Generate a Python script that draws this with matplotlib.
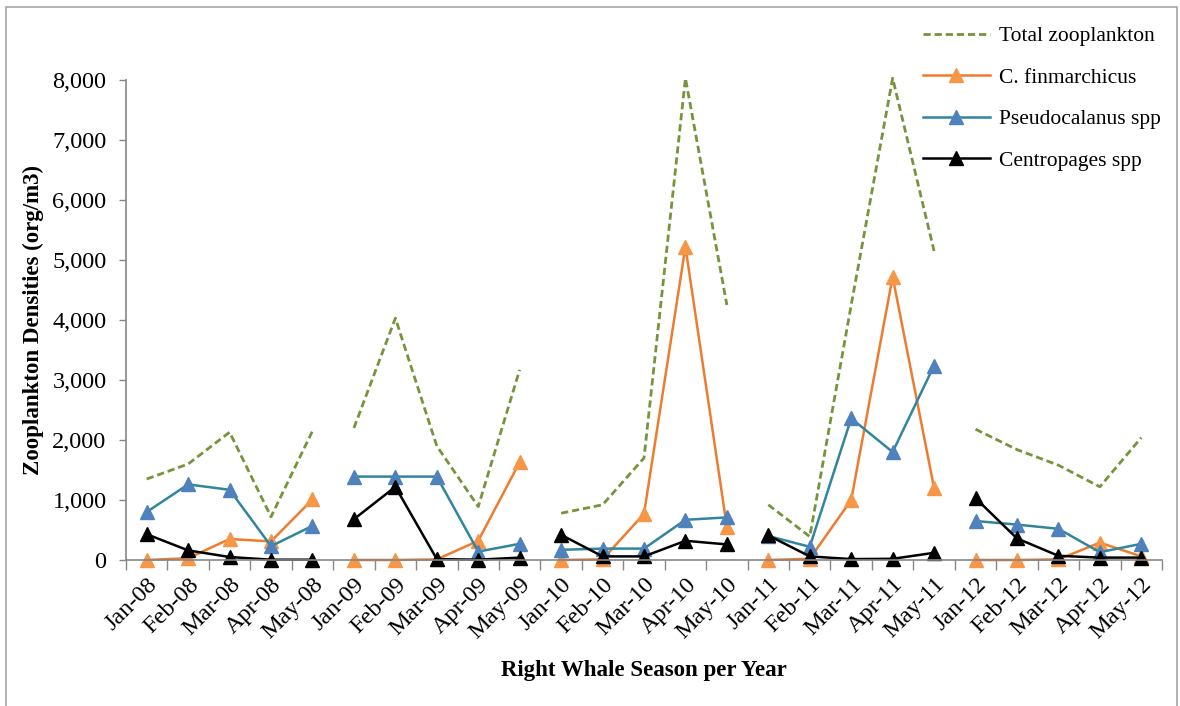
import numpy as np
import matplotlib
matplotlib.use("Agg")
import matplotlib.pyplot as plt
from matplotlib.patches import Rectangle

# survey months, Jan-May for each season
months = ["Jan", "Feb", "Mar", "Apr", "May"]
years = ["08", "09", "10", "11", "12"]
labels = [m + "-" + y for y in years for m in months]

# densities (org/m3), one row per season
total = [[1350, 1600, 2130, 720, 2150],
         [2200, 4030, 1900, 890, 3170],
         [780, 920, 1700, 8030, 4250],
         [920, 390, 4250, 8030, 5150],
         [2180, 1840, 1580, 1220, 2040]]
cfin = [[0, 30, 350, 310, 1010],
        [0, 0, 10, 320, 1630],
        [0, 10, 770, 5220, 550],
        [0, 20, 1000, 4720, 1200],
        [0, 0, 10, 290, 60]]
pseudo = [[800, 1260, 1170, 230, 570],
          [1390, 1390, 1390, 140, 270],
          [170, 190, 190, 670, 710],
          [400, 220, 2360, 1800, 3240],
          [650, 590, 520, 130, 270]]
centro = [[430, 160, 50, 5, 5],
          [680, 1220, 15, 5, 40],
          [420, 60, 60, 320, 260],
          [410, 60, 15, 20, 120],
          [1030, 360, 70, 40, 40]]

plt.rcParams['font.family'] = ['Liberation Serif', 'DejaVu Serif']

fig = plt.figure(figsize=(11.8, 7.06), dpi=100)
ax = fig.add_axes([126/1180, 1 - 560/706, 1036/1180, 480/706])

# thin grey border round the whole chart area
fig.patches.append(Rectangle((6/1180, -0.01), 1171/1180, 1 - 7/706 + 0.01,
                             transform=fig.transFigure, fill=False,
                             edgecolor="#a6a6a6", lw=1.2))

styles = [
    ("Total zooplankton", total, dict(color="#77933C", ls=(0, (2.6, 1.4)), lw=2.0)),
    ("C. finmarchicus", cfin, dict(color="#EE7C2F", marker="^", mfc="#F79646",
                                   mec="#F79646", ms=9.5, lw=1.8)),
    ("Pseudocalanus spp", pseudo, dict(color="#31859C", marker="^", mfc="#4F81BD",
                                       mec="#4F81BD", ms=9.5, lw=1.8)),
    ("Centropages spp", centro, dict(color="black", marker="^", mfc="black",
                                     mec="black", ms=9.5, lw=1.8)),
]

for name, series, kw in styles:
    for i, seg in enumerate(series):
        x = np.arange(5) + 5 * i
        ax.plot(x, seg, clip_on=False, label=name if i == 0 else None, **kw)

ax.set_xlim(-0.5, len(labels) - 0.5)
ax.set_ylim(0, 8000)
ax.set_yticks(np.arange(0, 8001, 1000))
ax.yaxis.set_major_formatter(matplotlib.ticker.FuncFormatter(lambda v, p: f"{int(v):,}"))

ax.set_xticks(np.arange(len(labels)))
ax.set_xticklabels(labels, rotation=45, ha="right", rotation_mode="anchor", fontsize=17.5)
ax.set_xticks(np.arange(len(labels) + 1) - 0.5, minor=True)
ax.tick_params(axis="x", which="major", length=0, pad=10)
ax.tick_params(axis="x", which="minor", length=7, color="#868686", width=1)
ax.tick_params(axis="y", length=5, color="#868686", width=1, labelsize=17.5, pad=9)

for s in ["top", "right"]:
    ax.spines[s].set_visible(False)
for s in ["left", "bottom"]:
    ax.spines[s].set_color("#868686")
    ax.spines[s].set_linewidth(1.2)

ax.set_ylabel("Zooplankton Densities (org/m3)", fontsize=16.5, fontweight="bold", labelpad=6)
ax.set_xlabel("Right Whale Season per Year", fontsize=16.5, fontweight="bold", labelpad=12)

fig.legend(loc="upper left", bbox_to_anchor=(923/1180, 1 - 26/706), frameon=False,
           fontsize=15.5, handlelength=3.1, handletextpad=0.45, labelspacing=1.0,
           borderpad=0, borderaxespad=0)

fig.savefig("out.png", dpi=100)
